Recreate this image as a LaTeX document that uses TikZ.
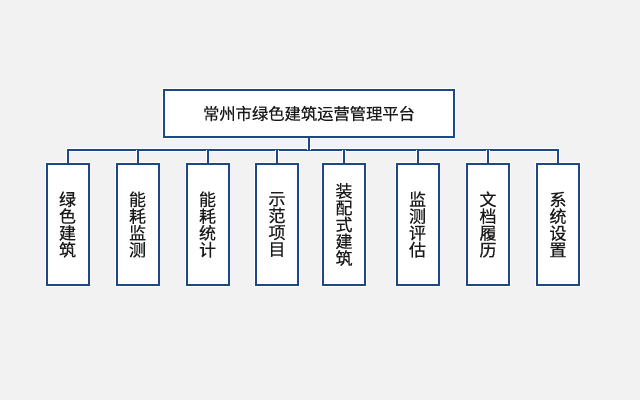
\documentclass[tikz,border=0pt]{standalone}
\usepackage{fontspec}
\newfontfamily\cjk[FakeBold=0.3]{Noto Sans CJK SC}
\definecolor{bgc}{HTML}{F2F2F2}
\definecolor{navy}{HTML}{1D4785}
\definecolor{txt}{HTML}{1A1A1A}
\begin{document}
\begin{tikzpicture}[x=1pt,y=-1pt,
  halo/.style={preaction={draw=white,line width=3.6pt}},
  link/.style={draw=navy,line width=2pt,line join=miter,halo},
  topbox/.style={draw=navy,line width=2pt,fill=white,halo,inner sep=0pt,
    minimum width=290pt,minimum height=47pt,text=txt,
    font=\cjk\fontsize{16.3}{17}\selectfont},
  subbox/.style={draw=navy,line width=2pt,fill=white,halo,inner sep=0pt,
    minimum width=42pt,minimum height=121pt,text=txt,align=center,
    font=\cjk\fontsize{17}{16.8}\selectfont}]
\fill[bgc] (0,0) rectangle (640,400);
\useasboundingbox (0,0) rectangle (640,400);
\coordinate (bus) at (0,150);
\node[topbox] (top) at (309,113.5) {常州市绿色建筑运营管理平台};
\node[subbox] (b1) at (67.5,224.5) {绿\\色\\建\\筑};
\node[subbox] (b2) at (137.5,224.5) {能\\耗\\监\\测};
\node[subbox] (b3) at (207.5,224.5) {能\\耗\\统\\计};
\node[subbox] (b4) at (277,224.5) {示\\范\\项\\目};
\node[subbox] (b5) at (344,224.5) {装\\配\\式\\建\\筑};
\node[subbox] (b6) at (417.5,224.5) {监\\测\\评\\估};
\node[subbox] (b7) at (488,224.5) {文\\档\\履\\历};
\node[subbox] (b8) at (558,224.5) {系\\统\\设\\置};
\draw[link] (b1.north) -- (b1.north |- bus) -- (b8.north |- bus) -- (b8.north);
\draw[link] (top.south) -- (top.south |- bus);
\foreach \b in {b2,b3,b4,b5,b6,b7} {
  \draw[link] (\b.north) -- (\b.north |- bus);
}
\end{tikzpicture}
\end{document}
